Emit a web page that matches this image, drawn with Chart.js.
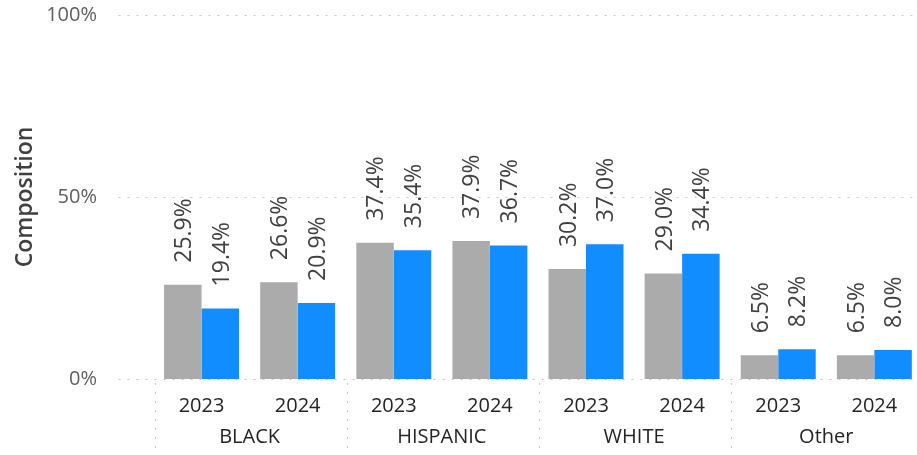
<!DOCTYPE html>
<html>
<head>
<meta charset="utf-8">
<script src="https://cdn.jsdelivr.net/npm/chart.js@4.4.1/dist/chart.umd.min.js"></script>
<style>
  html, body { margin: 0; padding: 0; background: #fff; overflow: hidden; }
  #wrap { position: relative; width: 935px; height: 455px; }
</style>
</head>
<body>
<div id="wrap"><canvas id="compositionChart"></canvas></div>
<script>
// chart data
const groups = ['BLACK', 'HISPANIC', 'WHITE', 'Other'];
const years = ['2023', '2024'];
const greyValues = [25.9, 26.6, 37.4, 37.9, 30.2, 29.0, 6.5, 6.5];
const blueValues = [19.4, 20.9, 35.4, 36.7, 37.0, 34.4, 8.2, 8.0];
const yTicks = [0, 50, 100];

const yearLabels = groups.flatMap(() => years);
const FONT = "'Open Sans', sans-serif";

// dotted gridlines + group separators, drawn wider than the chart area like Power BI
const gridPlugin = {
    id: 'pbiGrid',
    beforeDatasetsDraw(chart) {
        const { ctx, chartArea } = chart;
        const x = chart.scales.x;
        const y = chart.scales.y;
        ctx.save();
        ctx.strokeStyle = '#C6C6C6';
        ctx.lineWidth = 1;
        ctx.setLineDash([2, 7]);
        yTicks.forEach(v => {
            const py = Math.round(y.getPixelForValue(v)) + 0.5;
            ctx.beginPath();
            ctx.moveTo(chartArea.left - 35, py);
            ctx.lineTo(chartArea.right - 10, py);
            ctx.stroke();
        });
        const band = x.getPixelForValue(1) - x.getPixelForValue(0);
        for (let g = 0; g < groups.length; g++) {
            const px = Math.round(x.getPixelForValue(g * years.length) - band / 2) + 1.5;
            ctx.beginPath();
            ctx.moveTo(px, chartArea.bottom + 4);
            ctx.lineTo(px, chart.height);
            ctx.stroke();
        }
        ctx.restore();
    }
};

// rotated value labels above each bar
const labelPlugin = {
    id: 'barLabels',
    afterDatasetsDraw(chart) {
        const { ctx } = chart;
        const size = 23;
        ctx.save();
        ctx.font = size + 'px ' + FONT;
        ctx.fillStyle = '#404040';
        ctx.textAlign = 'left';
        ctx.textBaseline = 'alphabetic';
        chart.data.datasets.forEach((ds, i) => {
            chart.getDatasetMeta(i).data.forEach((bar, j) => {
                ctx.save();
                ctx.translate(bar.x + size * 0.36, bar.y - 22);
                ctx.rotate(-Math.PI / 2);
                ctx.fillText(ds.data[j].toFixed(1) + '%', 0, 0);
                ctx.restore();
            });
        });
        ctx.restore();
    }
};

new Chart(document.getElementById('compositionChart'), {
    type: 'bar',
    data: {
        labels: yearLabels,
        datasets: [
            { label: 'Previous', data: greyValues, backgroundColor: '#ABABAB' },
            { label: 'Current', data: blueValues, backgroundColor: '#118DFF' }
        ]
    },
    options: {
        responsive: true,
        maintainAspectRatio: false,
        animation: false,
        layout: { padding: { left: 0, right: 12.6, top: 15, bottom: 0 } },
        datasets: { bar: { categoryPercentage: 0.78, barPercentage: 1 } },
        plugins: {
            legend: { display: false },
            tooltip: { enabled: false }
        },
        scales: {
            x: {
                weight: 0,
                grid: { display: false },
                border: { display: false },
                ticks: {
                    color: '#252423',
                    font: { family: FONT, size: 20 },
                    padding: 7,
                    maxRotation: 0,
                    autoSkip: false
                },
                afterFit(s) { s.height = 38; }
            },
            x2: {
                type: 'category',
                labels: groups,
                position: 'bottom',
                offset: true,
                weight: 1,
                grid: { display: false },
                border: { display: false },
                ticks: {
                    color: '#252423',
                    font: { family: FONT, size: 20 },
                    padding: 0,
                    maxRotation: 0,
                    autoSkip: false
                },
                afterFit(s) { s.height = 38; }
            },
            y: {
                min: 0,
                max: 100,
                grid: { display: false },
                border: { display: false },
                ticks: {
                    stepSize: 50,
                    color: '#605E5C',
                    font: { family: FONT, size: 20 },
                    padding: 48.5,
                    callback: v => v + '%'
                },
                title: {
                    display: true,
                    text: 'Composition',
                    color: '#404040',
                    font: { family: FONT, size: 23, weight: 600 },
                    padding: { top: 12, bottom: 0 }
                },
                afterFit(s) {
                    s.width = 153.5;
                    // tick padding would otherwise push the plot top down
                    s.paddingTop = 12;
                    s.paddingBottom = 12;
                }
            }
        }
    },
    plugins: [gridPlugin, labelPlugin]
});
</script>
</body>
</html>
